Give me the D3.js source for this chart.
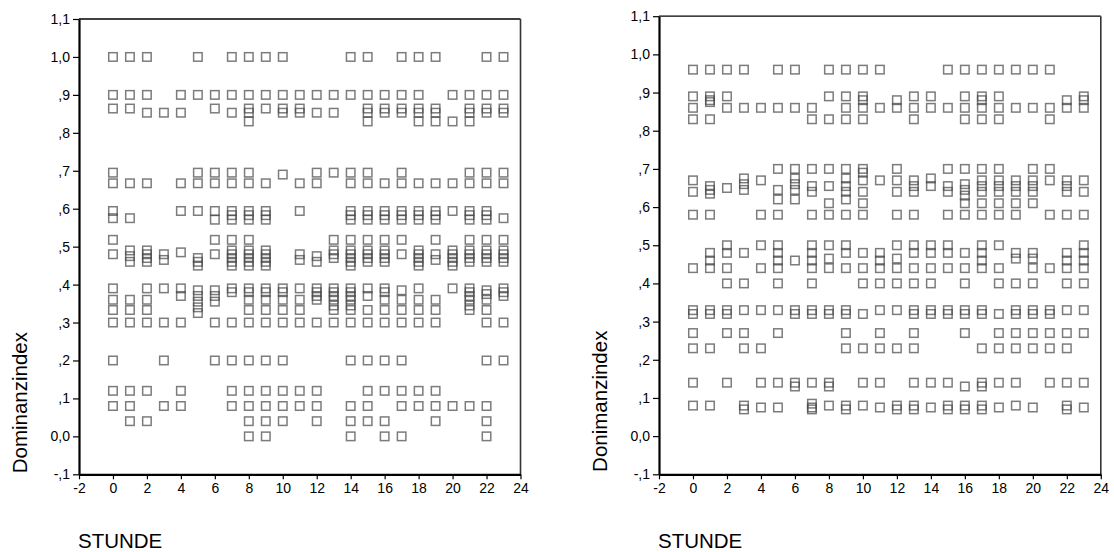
<!DOCTYPE html>
<html>
<head>
<meta charset="utf-8">
<script src="https://cdn.jsdelivr.net/npm/d3@7/dist/d3.min.js"></script>
<style>
  body { margin: 0; background: #fff; }
  svg { display: block; }
  text { font-family: "Liberation Sans", Arial, sans-serif; fill: #000; }
</style>
</head>
<body>
<svg id="chart" width="1114" height="552"></svg>
<script>
// Hour of day (category on the x axis)
const hours = [0, 1, 2, 3, 4, 5, 6, 7, 8, 9, 10, 11, 12, 13, 14, 15, 16, 17, 18, 19, 20, 21, 22, 23];

// Axis ticks and their SPSS-style labels
const xTicks = [-2, 0, 2, 4, 6, 8, 10, 12, 14, 16, 18, 20, 22, 24];
const xTickLabels = ["-2", "0", "2", "4", "6", "8", "10", "12", "14", "16", "18", "20", "22", "24"];
const yTicks = [-0.1, 0, 0.1, 0.2, 0.3, 0.4, 0.5, 0.6, 0.7, 0.8, 0.9, 1.0, 1.1];
const yTickLabels = ["-,1", "0,0", ",1", ",2", ",3", ",4", ",5", ",6", ",7", ",8", ",9", "1,0", "1,1"];

// Dominance index observations, one list per hour (left panel)
const dominanzLinks = [
  [1.0, 0.9, 0.864, 0.695, 0.667, 0.594, 0.575, 0.518, 0.48, 0.39, 0.36, 0.333, 0.30, 0.20, 0.12, 0.08],
  [1.0, 0.9, 0.864, 0.667, 0.575, 0.49, 0.475, 0.46, 0.36, 0.333, 0.30, 0.12, 0.08, 0.04],
  [1.0, 0.9, 0.853, 0.667, 0.49, 0.48, 0.47, 0.46, 0.39, 0.36, 0.333, 0.30, 0.12, 0.04],
  [0.853, 0.48, 0.465, 0.39, 0.30, 0.20, 0.08],
  [0.9, 0.853, 0.667, 0.594, 0.485, 0.39, 0.37, 0.30, 0.12, 0.08],
  [1.0, 0.9, 0.695, 0.667, 0.594, 0.47, 0.46, 0.45, 0.385, 0.37, 0.355, 0.34, 0.325],
  [0.9, 0.864, 0.695, 0.667, 0.594, 0.571, 0.518, 0.48, 0.385, 0.37, 0.355, 0.30, 0.20],
  [1.0, 0.9, 0.853, 0.695, 0.667, 0.594, 0.583, 0.571, 0.518, 0.49, 0.48, 0.47, 0.46, 0.45, 0.39, 0.38, 0.30, 0.20, 0.12, 0.08],
  [1.0, 0.9, 0.864, 0.853, 0.83, 0.695, 0.667, 0.594, 0.583, 0.571, 0.518, 0.49, 0.48, 0.47, 0.46, 0.45, 0.39, 0.38, 0.36, 0.333, 0.30, 0.20, 0.12, 0.08, 0.04, 0.0],
  [1.0, 0.9, 0.864, 0.667, 0.594, 0.583, 0.571, 0.49, 0.48, 0.47, 0.46, 0.45, 0.39, 0.38, 0.36, 0.333, 0.30, 0.20, 0.12, 0.08, 0.04, 0.0],
  [1.0, 0.9, 0.864, 0.853, 0.69, 0.39, 0.38, 0.36, 0.333, 0.30, 0.20, 0.12, 0.08, 0.04],
  [0.9, 0.864, 0.853, 0.667, 0.594, 0.48, 0.465, 0.39, 0.36, 0.333, 0.30, 0.12, 0.08],
  [0.9, 0.853, 0.695, 0.667, 0.475, 0.46, 0.39, 0.38, 0.37, 0.36, 0.30, 0.12, 0.08, 0.04],
  [0.9, 0.853, 0.695, 0.518, 0.49, 0.48, 0.47, 0.39, 0.38, 0.37, 0.36, 0.345, 0.333, 0.30],
  [1.0, 0.9, 0.695, 0.667, 0.594, 0.583, 0.571, 0.518, 0.49, 0.48, 0.47, 0.46, 0.45, 0.39, 0.38, 0.37, 0.36, 0.345, 0.333, 0.30, 0.20, 0.08, 0.04, 0.0],
  [1.0, 0.9, 0.864, 0.853, 0.83, 0.695, 0.667, 0.594, 0.583, 0.571, 0.518, 0.49, 0.48, 0.47, 0.46, 0.39, 0.37, 0.333, 0.30, 0.20, 0.12, 0.08, 0.04],
  [0.9, 0.864, 0.853, 0.667, 0.594, 0.583, 0.571, 0.518, 0.49, 0.48, 0.47, 0.46, 0.39, 0.38, 0.36, 0.333, 0.30, 0.20, 0.12, 0.04, 0.0],
  [1.0, 0.9, 0.864, 0.853, 0.695, 0.667, 0.594, 0.583, 0.571, 0.518, 0.48, 0.385, 0.36, 0.333, 0.30, 0.20, 0.12, 0.08, 0.0],
  [1.0, 0.9, 0.864, 0.853, 0.83, 0.667, 0.594, 0.583, 0.571, 0.49, 0.48, 0.47, 0.46, 0.45, 0.39, 0.36, 0.333, 0.30, 0.12, 0.08],
  [1.0, 0.864, 0.853, 0.83, 0.667, 0.594, 0.583, 0.571, 0.518, 0.48, 0.465, 0.36, 0.333, 0.30, 0.12, 0.08, 0.04],
  [0.9, 0.83, 0.667, 0.594, 0.49, 0.48, 0.47, 0.46, 0.45, 0.39, 0.08],
  [0.9, 0.864, 0.853, 0.83, 0.695, 0.667, 0.594, 0.583, 0.571, 0.518, 0.49, 0.48, 0.47, 0.46, 0.39, 0.38, 0.37, 0.36, 0.345, 0.333, 0.08],
  [1.0, 0.9, 0.864, 0.853, 0.695, 0.667, 0.594, 0.583, 0.571, 0.518, 0.49, 0.48, 0.47, 0.46, 0.385, 0.375, 0.36, 0.333, 0.30, 0.20, 0.08, 0.04, 0.0],
  [1.0, 0.9, 0.864, 0.853, 0.695, 0.667, 0.575, 0.518, 0.49, 0.48, 0.47, 0.46, 0.39, 0.38, 0.37, 0.30, 0.20]
];

// Dominance index observations, one list per hour (right panel)
const dominanzRechts = [
  [0.96, 0.89, 0.86, 0.83, 0.67, 0.64, 0.58, 0.44, 0.33, 0.32, 0.27, 0.23, 0.14, 0.08],
  [0.96, 0.89, 0.88, 0.875, 0.83, 0.655, 0.645, 0.635, 0.58, 0.48, 0.46, 0.44, 0.33, 0.32, 0.23, 0.08],
  [0.96, 0.89, 0.86, 0.65, 0.50, 0.48, 0.44, 0.40, 0.33, 0.32, 0.27, 0.14],
  [0.96, 0.86, 0.675, 0.66, 0.645, 0.48, 0.40, 0.33, 0.27, 0.23, 0.08, 0.07],
  [0.86, 0.67, 0.58, 0.50, 0.44, 0.33, 0.23, 0.14, 0.075],
  [0.96, 0.86, 0.70, 0.645, 0.62, 0.58, 0.50, 0.48, 0.46, 0.44, 0.40, 0.33, 0.27, 0.14, 0.075],
  [0.96, 0.86, 0.70, 0.675, 0.66, 0.645, 0.62, 0.46, 0.33, 0.32, 0.14, 0.13],
  [0.86, 0.83, 0.70, 0.655, 0.64, 0.58, 0.50, 0.48, 0.46, 0.44, 0.40, 0.33, 0.32, 0.14, 0.085, 0.075, 0.07],
  [0.96, 0.89, 0.83, 0.70, 0.655, 0.61, 0.58, 0.50, 0.465, 0.44, 0.33, 0.32, 0.14, 0.13, 0.08],
  [0.96, 0.89, 0.86, 0.83, 0.70, 0.675, 0.655, 0.64, 0.62, 0.58, 0.50, 0.48, 0.44, 0.33, 0.32, 0.27, 0.23, 0.08, 0.07],
  [0.96, 0.89, 0.88, 0.86, 0.83, 0.70, 0.69, 0.67, 0.64, 0.61, 0.58, 0.48, 0.44, 0.40, 0.32, 0.23, 0.14, 0.08],
  [0.96, 0.86, 0.67, 0.48, 0.46, 0.44, 0.40, 0.33, 0.27, 0.23, 0.14, 0.075],
  [0.88, 0.86, 0.70, 0.67, 0.64, 0.58, 0.50, 0.465, 0.44, 0.40, 0.33, 0.23, 0.08, 0.07],
  [0.89, 0.86, 0.83, 0.67, 0.655, 0.64, 0.58, 0.50, 0.48, 0.44, 0.40, 0.33, 0.32, 0.27, 0.23, 0.14, 0.08, 0.07],
  [0.89, 0.86, 0.675, 0.655, 0.50, 0.48, 0.44, 0.40, 0.33, 0.32, 0.14, 0.075],
  [0.96, 0.86, 0.70, 0.655, 0.64, 0.58, 0.50, 0.48, 0.44, 0.33, 0.32, 0.14, 0.08, 0.07],
  [0.96, 0.89, 0.86, 0.83, 0.70, 0.66, 0.645, 0.63, 0.61, 0.58, 0.48, 0.44, 0.40, 0.33, 0.32, 0.27, 0.13, 0.08, 0.07],
  [0.96, 0.89, 0.88, 0.86, 0.83, 0.70, 0.67, 0.655, 0.64, 0.61, 0.58, 0.50, 0.48, 0.46, 0.44, 0.33, 0.32, 0.23, 0.14, 0.13, 0.08, 0.07],
  [0.96, 0.89, 0.86, 0.83, 0.70, 0.67, 0.655, 0.64, 0.61, 0.58, 0.50, 0.44, 0.40, 0.32, 0.27, 0.23, 0.14, 0.075],
  [0.96, 0.86, 0.67, 0.655, 0.64, 0.61, 0.58, 0.48, 0.465, 0.40, 0.33, 0.32, 0.27, 0.23, 0.14, 0.08],
  [0.96, 0.86, 0.70, 0.67, 0.655, 0.64, 0.61, 0.48, 0.465, 0.44, 0.40, 0.33, 0.32, 0.27, 0.23, 0.075],
  [0.96, 0.86, 0.83, 0.70, 0.67, 0.58, 0.44, 0.33, 0.32, 0.27, 0.23, 0.14],
  [0.88, 0.86, 0.67, 0.655, 0.64, 0.58, 0.48, 0.46, 0.44, 0.40, 0.33, 0.27, 0.23, 0.14, 0.08, 0.07],
  [0.89, 0.88, 0.86, 0.67, 0.64, 0.58, 0.50, 0.48, 0.46, 0.44, 0.40, 0.33, 0.27, 0.14, 0.075]
];

// Panel layout
const panels = [
  { values: dominanzLinks,  yTitle: "Dominanzindex", xTitle: "STUNDE",
    left: 79,  right: 520.5,  top: 19,   bottom: 474.3 },
  { values: dominanzRechts, yTitle: "Donimanzindex", xTitle: "STUNDE",
    left: 659, right: 1100.8, top: 16.2, bottom: 474.3 }
];

const svg = d3.select("#chart");
const markSize = 8.5;

panels.forEach(p => {
  const g = svg.append("g");
  const x = d3.scaleLinear().domain([-2, 24]).range([p.left, p.right]);
  const y = d3.scaleLinear().domain([-0.1, 1.1]).range([p.bottom, p.top]);

  // frame: top and right edges
  g.append("line")
    .attr("x1", p.left).attr("x2", p.right)
    .attr("y1", p.top).attr("y2", p.top)
    .attr("stroke", "#000").attr("stroke-width", 1.3);
  g.append("line")
    .attr("x1", p.right).attr("x2", p.right)
    .attr("y1", p.top).attr("y2", p.bottom)
    .attr("stroke", "#333").attr("stroke-width", 1.6);

  // points
  const pts = [];
  hours.forEach((h, i) => p.values[i].forEach(v => pts.push({ h, v })));
  g.append("g")
    .selectAll("rect")
    .data(pts)
    .join("rect")
    .attr("x", d => x(d.h) - markSize / 2)
    .attr("y", d => y(d.v) - markSize / 2)
    .attr("width", markSize)
    .attr("height", markSize)
    .attr("fill", "none")
    .attr("stroke", "#4a4a4a")
    .attr("stroke-opacity", 0.72)
    .attr("stroke-width", 1.5);

  // y axis
  const yAxis = g.append("g")
    .attr("transform", `translate(${p.left},0)`)
    .call(d3.axisLeft(y)
      .tickValues(yTicks)
      .tickFormat((d, i) => yTickLabels[i])
      .tickSize(6).tickSizeOuter(0).tickPadding(3));
  yAxis.select(".domain").attr("stroke-width", 2.2);
  yAxis.selectAll(".tick line").attr("stroke-width", 1.2);
  yAxis.selectAll(".tick text")
    .attr("font-size", 14)
    .attr("font-family", "'Liberation Sans', Arial, sans-serif");

  // x axis
  const xAxis = g.append("g")
    .attr("transform", `translate(0,${p.bottom})`)
    .call(d3.axisBottom(x)
      .tickValues(xTicks)
      .tickFormat((d, i) => xTickLabels[i])
      .tickSize(5).tickSizeOuter(0).tickPadding(4));
  xAxis.select(".domain").attr("stroke-width", 2.2);
  xAxis.selectAll(".tick line").attr("stroke-width", 1.2);
  xAxis.selectAll(".tick text")
    .attr("font-size", 14)
    .attr("font-family", "'Liberation Sans', Arial, sans-serif");

  // axis titles
  g.append("text")
    .attr("transform", `translate(${p.left - 52},${(p.top + p.bottom) / 2 + 156}) rotate(-90)`)
    .attr("text-anchor", "middle")
    .attr("font-size", 20.5)
    .text(p.yTitle);
  g.append("text")
    .attr("x", p.left - 1)
    .attr("y", 548)
    .attr("font-size", 20.5)
    .text(p.xTitle);
});
</script>
</body>
</html>
